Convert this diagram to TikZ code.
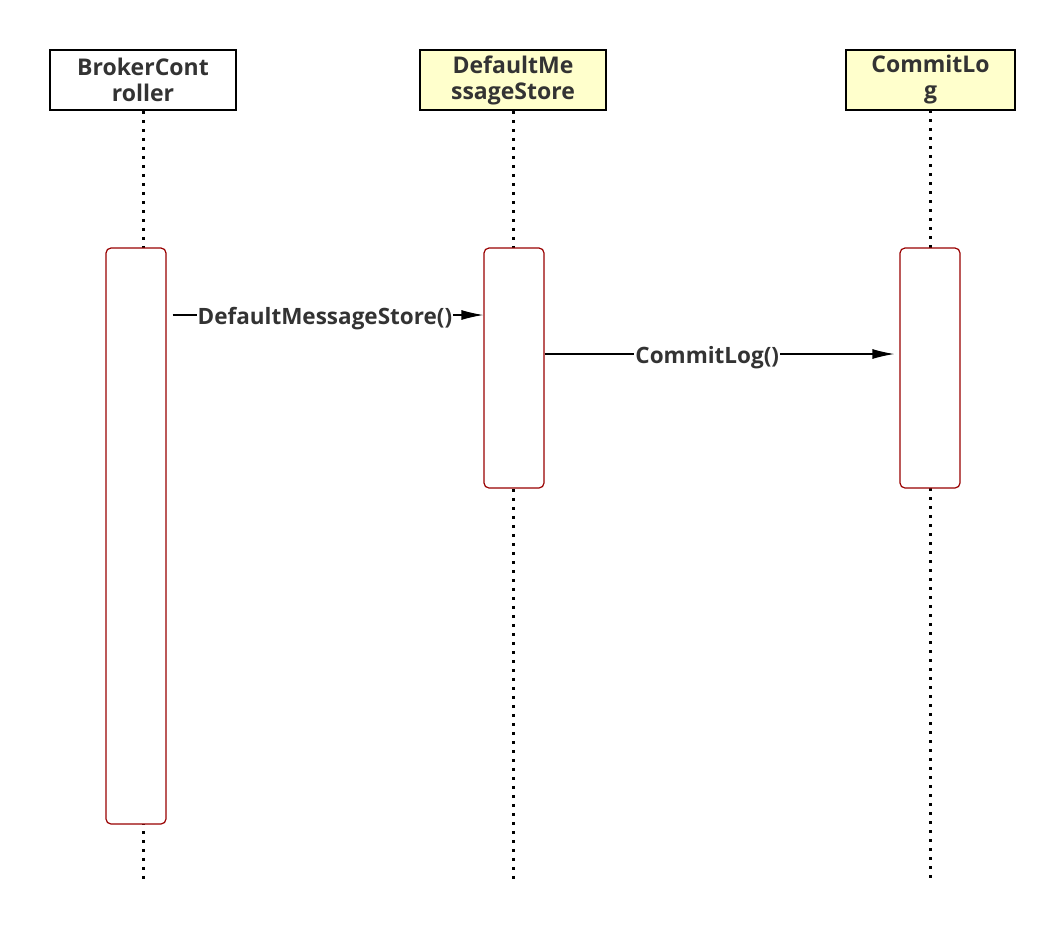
\documentclass[tikz,border=0pt]{standalone}
\usepackage{fontspec}
\setmainfont{Open Sans}
\usetikzlibrary{arrows.meta}
\definecolor{txt}{HTML}{333333}
\definecolor{act}{HTML}{990000}
\definecolor{yel}{HTML}{FFFFCC}
\tikzset{
 head/.style={draw=black,line width=1.5pt,minimum width=186pt,minimum height=60pt,inner sep=0pt,align=center,font=\fontsize{23}{26}\selectfont\bfseries,text=txt},
 life/.style={line width=3pt,dash pattern=on 3pt off 6pt},
 actbar/.style={draw=act,fill=white,line width=1.2pt,rounded corners=5pt},
 msg/.style={line width=1.2pt,-{Latex[length=22pt,width=10pt]}},
 lbl/.style={fill=white,inner sep=1pt,font=\fontsize{22.5}{26}\selectfont\bfseries,text=txt}
}
\begin{document}
\begin{tikzpicture}[x=1pt,y=-1pt]
\useasboundingbox (0,0) rectangle (1064,930);
\node[head,fill=white] (h1) at (143,80) {BrokerCont\\roller};
\node[head,fill=yel] (h2) at (513,80) {DefaultMe\\ssageStore};
\node[head,fill=yel,minimum width=169pt] (h3) at (930.5,80) {CommitLo\\g};
\coordinate (e1) at (143,880);
\coordinate (e2) at (513,880);
\coordinate (e3) at (930,880);
\draw[life] (h1.south) -- (e1);
\draw[life] (h2.south) -- (e2);
\draw[life] (930,110) -- (e3);
\node[actbar,minimum width=60pt,minimum height=576pt] (a1) at (136,536) {};
\node[actbar,minimum width=60pt,minimum height=240pt] (a2) at (514,368) {};
\node[actbar,minimum width=60pt,minimum height=240pt] (a3) at (930,368) {};
\draw[msg] ([xshift=6pt]a1.east |- 0,315) -- node[lbl,pos=0.49,yshift=-4pt] {DefaultMessageStore()} (a2.west |- 0,315);
\draw[msg] (a2.east |- 0,354) -- node[lbl,pos=0.465,yshift=-4pt] {CommitLog()} ([xshift=-5pt]a3.west |- 0,354);
\end{tikzpicture}
\end{document}
